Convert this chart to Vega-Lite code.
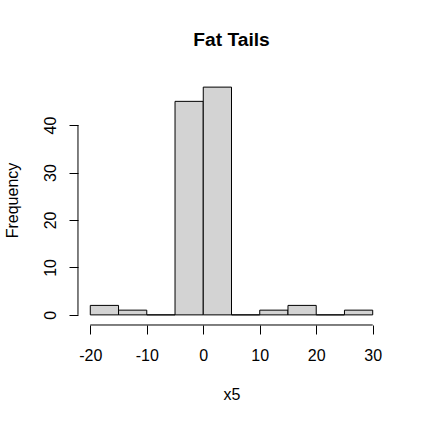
{
  "$schema": "https://vega.github.io/schema/vega-lite/v6.json",
  "autosize": {"type": "none"},
  "width": 305,
  "height": 246,
  "padding": {"left": 79, "top": 78, "right": 40, "bottom": 99},
  "background": "white",
  "config": {
    "view": {"stroke": null},
    "font": "Liberation Sans",
    "axis": {"grid": false, "domain": false, "tickColor": "black", "tickWidth": 1, "tickSize": 9, "labelColor": "black", "labelFontSize": 16, "labelFont": "Liberation Sans", "titleFont": "Liberation Sans", "titleFontSize": 16, "titleFontWeight": "normal", "titleColor": "black", "offset": 1, "labelExpr": "'' + datum.value"}
  },
  "title": {"text": "Fat Tails", "fontSize": 19.2, "fontWeight": "bold", "font": "Liberation Sans", "color": "black", "anchor": "middle", "frame": "group", "baseline": "alphabetic", "offset": 13},
  "datasets": {
    "bins": [
      {"start": -20, "end": -15, "count": 2},
      {"start": -15, "end": -10, "count": 1},
      {"start": -10, "end": -5, "count": 0},
      {"start": -5, "end": 0, "count": 45},
      {"start": 0, "end": 5, "count": 48},
      {"start": 5, "end": 10, "count": 0},
      {"start": 10, "end": 15, "count": 1},
      {"start": 15, "end": 20, "count": 2},
      {"start": 20, "end": 25, "count": 0},
      {"start": 25, "end": 30, "count": 1}
    ]
  },
  "layer": [
    {
      "data": {"name": "bins"},
      "mark": {"type": "rect", "fill": "#D3D3D3", "stroke": "black", "strokeWidth": 1},
      "encoding": {
        "x": {"field": "start", "type": "quantitative", "scale": {"domain": [-22, 32], "nice": false, "zero": false},
          "axis": {"values": [-20, -10, 0, 10, 20, 30], "title": "x5", "labelPadding": 26, "labelBaseline": "alphabetic", "titleY": 74, "titleBaseline": "alphabetic"}},
        "x2": {"field": "end"},
        "y": {"field": "count", "type": "quantitative", "scale": {"domain": [-1.92, 49.92], "nice": false, "zero": false},
          "axis": {"values": [0, 10, 20, 30, 40], "title": "Frequency", "labelAngle": 270, "labelAlign": "center", "labelBaseline": "alphabetic", "labelPadding": 14, "titleAngle": 270, "titleX": -60.5, "titleY": 122, "titleAlign": "center", "titleBaseline": "alphabetic"}},
        "y2": {"datum": 0}
      }
    },
    {
      "data": {"values": [{"a": -20, "b": 30, "c": -2.13}]},
      "mark": {"type": "rule", "color": "black", "strokeWidth": 1, "clip": false},
      "encoding": {
        "x": {"field": "a", "type": "quantitative"},
        "x2": {"field": "b"},
        "y": {"field": "c", "type": "quantitative"}
      }
    },
    {
      "data": {"values": [{"a": 0, "b": 40, "c": -22.18}]},
      "mark": {"type": "rule", "color": "black", "strokeWidth": 1, "clip": false},
      "encoding": {
        "y": {"field": "a", "type": "quantitative"},
        "y2": {"field": "b"},
        "x": {"field": "c", "type": "quantitative"}
      }
    }
  ]
}
